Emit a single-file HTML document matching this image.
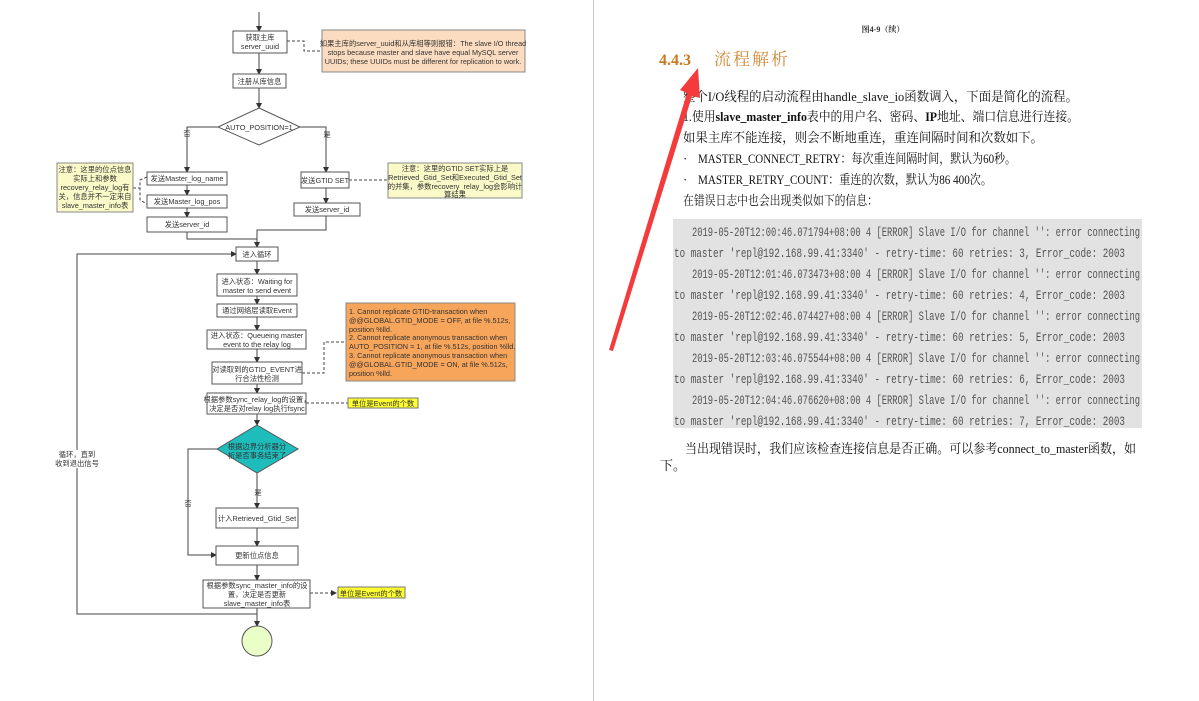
<!DOCTYPE html>
<html><head><meta charset="utf-8"><style>
html,body{margin:0;padding:0;background:#fff;}
svg{display:block;}
.f{font-family:"Liberation Sans","Noto Sans CJK SC",sans-serif;font-size:7.3px;fill:#333;}
.s{font-family:"Liberation Serif","Noto Serif CJK SC",serif;font-size:13px;fill:#111;}
.m{font-family:"Liberation Mono","Noto Sans CJK SC",monospace;font-size:12.5px;fill:#555;}
</style></head><body>
<svg width="1199" height="701" viewBox="0 0 1199 701" xmlns="http://www.w3.org/2000/svg">
<defs>
<marker id="a" markerWidth="6" markerHeight="6" refX="5" refY="3" orient="auto" markerUnits="userSpaceOnUse"><path d="M0,0 L6,3 L0,6 z" fill="#333"/></marker>
</defs>
<rect width="1199" height="701" fill="#fff"/>
<line x1="593.5" y1="0" x2="593.5" y2="701" stroke="#ccc" stroke-width="1"/>

<g stroke="#444" stroke-width="1" fill="none">
<line x1="259" y1="12" x2="259" y2="31" marker-end="url(#a)"/>
<line x1="259" y1="53" x2="259" y2="74" marker-end="url(#a)"/>
<line x1="259" y1="88" x2="259" y2="108" marker-end="url(#a)"/>
<polyline points="218,127 187,127 187,172" marker-end="url(#a)"/>
<polyline points="300,127 326,127 326,172" marker-end="url(#a)"/>
<line x1="187" y1="185" x2="187" y2="195" marker-end="url(#a)"/>
<line x1="187" y1="208" x2="187" y2="217" marker-end="url(#a)"/>
<line x1="326" y1="188" x2="326" y2="203" marker-end="url(#a)"/>
<polyline points="187,232 187,239 257,239"/>
<polyline points="326,216 326,230 257,230 257,247" marker-end="url(#a)"/>
<polyline points="257,614 77,614 77,254 236,254" marker-end="url(#a)"/>
<line x1="257" y1="261" x2="257" y2="274" marker-end="url(#a)"/>
<line x1="257" y1="296" x2="257" y2="304" marker-end="url(#a)"/>
<line x1="257" y1="317" x2="257" y2="330" marker-end="url(#a)"/>
<line x1="257" y1="349" x2="257" y2="362" marker-end="url(#a)"/>
<line x1="257" y1="384" x2="257" y2="393" marker-end="url(#a)"/>
<line x1="257" y1="414" x2="257" y2="425" marker-end="url(#a)"/>
<line x1="257" y1="473" x2="257" y2="508" marker-end="url(#a)"/>
<polyline points="217,449 188,449 188,555 216,555" marker-end="url(#a)"/>
<line x1="257" y1="528" x2="257" y2="546" marker-end="url(#a)"/>
<line x1="257" y1="565" x2="257" y2="580" marker-end="url(#a)"/>
<line x1="257" y1="608" x2="257" y2="626" marker-end="url(#a)"/>
</g>
<g stroke="#444" stroke-width="1" fill="none" stroke-dasharray="3,2">
<polyline points="287,41 304,41 304,51 322,51"/>
<polyline points="147,177 140,180 140,200 147,204"/>
<line x1="133" y1="188" x2="140" y2="188"/>
<line x1="349" y1="180" x2="388" y2="180"/>
<polyline points="302,373 324,373 324,342 346,342"/>
<line x1="306" y1="403" x2="348" y2="403"/>
<line x1="310" y1="593" x2="336" y2="593" marker-end="url(#a)"/>
</g>

<g stroke="#555" stroke-width="1" fill="#fff">
<rect x="233" y="31" width="54" height="22"/>
<rect x="233" y="74" width="53" height="14"/>
<polygon points="259,108 300,127 259,145 218,127"/>
<rect x="147" y="172" width="80" height="13"/>
<rect x="147" y="195" width="80" height="13"/>
<rect x="147" y="217" width="80" height="15"/>
<rect x="301" y="172" width="48" height="16"/>
<rect x="294" y="203" width="66" height="13"/>
<rect x="236" y="247" width="42" height="14"/>
<rect x="217" y="274" width="80" height="22"/>
<rect x="217" y="304" width="80" height="13"/>
<rect x="207" y="330" width="99" height="19"/>
<rect x="212" y="362" width="90" height="22"/>
<rect x="207" y="393" width="99" height="21"/>
<polygon points="257,425 298,449 257,473 217,449" fill="#1fbcbc"/>
<rect x="216" y="508" width="82" height="20"/>
<rect x="216" y="546" width="82" height="19"/>
<rect x="203" y="580" width="107" height="28"/>
<circle cx="257" cy="641" r="15" fill="#eaffc8"/>
</g>
<rect x="322" y="30" width="203" height="42" fill="#fcdcc0" stroke="#888"/>
<rect x="57" y="163" width="76" height="49" fill="#fafac8" stroke="#888"/>
<rect x="388" y="163" width="134" height="35" fill="#fafac8" stroke="#888"/>
<rect x="346" y="303" width="169" height="78" fill="#f7a55a" stroke="#888"/>
<rect x="348" y="398" width="70" height="10" fill="#ffff30" stroke="#777"/>
<rect x="338" y="587" width="67" height="11" fill="#ffff30" stroke="#777"/>
<rect x="56" y="450" width="42" height="18" fill="#fff"/>

<g class="f" text-anchor="middle">
<text x="260" y="40">获取主库</text><text x="260" y="49">server_uuid</text>
<text x="259.5" y="84">注册从库信息</text>
<text x="259" y="130">AUTO_POSITION=1</text>
<text x="187" y="136">否</text><text x="327" y="137">是</text>
<text x="187" y="181">发送Master_log_name</text>
<text x="187" y="204">发送Master_log_pos</text>
<text x="187" y="227">发送server_id</text>
<text x="325" y="183">发送GTID SET</text>
<text x="327" y="212">发送server_id</text>
<text x="95" y="172">注意：这里的位点信息</text>
<text x="95" y="181">实际上和参数</text>
<text x="95" y="190">recovery_relay_log有</text>
<text x="95" y="199">关，信息并不一定来自</text>
<text x="95" y="208">slave_master_info表</text>
<text x="455" y="171">注意：这里的GTID SET实际上是</text>
<text x="455" y="180">Retrieved_Gtid_Set和Executed_Gtid_Set</text>
<text x="455" y="189">的并集，参数recovery_relay_log会影响计</text>
<text x="455" y="197">算结果</text>
<text x="423" y="46">如果主库的server_uuid和从库相等则报错：The slave I/O thread</text>
<text x="423" y="55">stops because master and slave have equal MySQL server</text>
<text x="423" y="64">UUIDs; these UUIDs must be different for replication to work.</text>
<text x="257" y="257">进入循环</text>
<text x="257" y="284">进入状态：Waiting for</text><text x="257" y="293">master to send event</text>
<text x="257" y="313">通过网络层读取Event</text>
<text x="257" y="338">进入状态：Queueing master</text><text x="257" y="347">event to the relay log</text>
<text x="257" y="372">对读取到的GTID_EVENT进</text><text x="257" y="381">行合法性检测</text>
<text x="257" y="402">根据参数sync_relay_log的设置，</text><text x="257" y="411">决定是否对relay log执行fsync</text>
<text x="383" y="406">单位是Event的个数</text>
<text x="257" y="449">根据边界分析器分</text><text x="257" y="458">析是否事务结束了</text>
<text x="258" y="495">是</text><text x="188" y="506">否</text>
<text x="257" y="521">计入Retrieved_Gtid_Set</text>
<text x="257" y="558">更新位点信息</text>
<text x="257" y="588">根据参数sync_master_info的设</text>
<text x="257" y="597">置，决定是否更新</text>
<text x="257" y="606">slave_master_info表</text>
<text x="371" y="596">单位是Event的个数</text>
<text x="77" y="457">循环，直到</text><text x="77" y="466">收到退出信号</text>
</g>
<g class="f">
<text x="349" y="314">1.  Cannot replicate GTID-transaction when</text>
<text x="349" y="323">@@GLOBAL.GTID_MODE = OFF, at file %.512s,</text>
<text x="349" y="332">position %lld.</text>
<text x="349" y="340">2.  Cannot replicate anonymous transaction when</text>
<text x="349" y="349">AUTO_POSITION = 1, at file %.512s, position %lld.</text>
<text x="349" y="358">3.  Cannot replicate anonymous transaction when</text>
<text x="349" y="367">@@GLOBAL.GTID_MODE = ON, at file %.512s,</text>
<text x="349" y="376">position %lld.</text>
</g>

<text x="883" y="32" text-anchor="middle" style="font-family:'Liberation Serif','Noto Serif CJK SC',serif;font-size:8px;font-weight:bold;fill:#333">图4-9（续）</text>
<text x="659" y="65" style="font-family:'Liberation Serif',serif;font-size:16px;font-weight:bold;fill:#c8781e">4.4.3</text>
<text x="714" y="65" style="font-family:'Noto Serif CJK SC',serif;font-size:17px;letter-spacing:2px;fill:#d08a3a">流程解析</text>
<g class="s">
<text x="683" y="101" textLength="395" lengthAdjust="spacingAndGlyphs">整个I/O线程的启动流程由handle_slave_io函数调入，下面是简化的流程。</text>
<text x="683" y="121" textLength="396" lengthAdjust="spacingAndGlyphs">1.使用<tspan font-weight="bold">slave_master_info</tspan>表中的用户名、密码、<tspan font-weight="bold">IP</tspan>地址、端口信息进行连接。</text>
<text x="683" y="142" textLength="360" lengthAdjust="spacingAndGlyphs">如果主库不能连接，则会不断地重连，重连间隔时间和次数如下。</text>
<text x="683" y="163">·</text>
<text x="698" y="163" textLength="318" lengthAdjust="spacingAndGlyphs">MASTER_CONNECT_RETRY：每次重连间隔时间，默认为60秒。</text>
<text x="683" y="184">·</text>
<text x="698" y="184" textLength="294" lengthAdjust="spacingAndGlyphs">MASTER_RETRY_COUNT：重连的次数，默认为86 400次。</text>
<text x="683" y="205" textLength="195" lengthAdjust="spacingAndGlyphs">在错误日志中也会出现类似如下的信息：</text>
</g>
<rect x="673" y="219" width="469" height="209" fill="#e2e2e2"/>
<g class="m">
<text x="692" y="236" textLength="448" lengthAdjust="spacingAndGlyphs">2019-05-20T12:00:46.071794+08:00 4 [ERROR] Slave I/O for channel '': error connecting</text>
<text x="674" y="257" textLength="451" lengthAdjust="spacingAndGlyphs">to master 'repl@192.168.99.41:3340' - retry-time: 60  retries: 3, Error_code: 2003</text>
<text x="692" y="278" textLength="448" lengthAdjust="spacingAndGlyphs">2019-05-20T12:01:46.073473+08:00 4 [ERROR] Slave I/O for channel '': error connecting</text>
<text x="674" y="299" textLength="451" lengthAdjust="spacingAndGlyphs">to master 'repl@192.168.99.41:3340' - retry-time: 60  retries: 4, Error_code: 2003</text>
<text x="692" y="320" textLength="448" lengthAdjust="spacingAndGlyphs">2019-05-20T12:02:46.074427+08:00 4 [ERROR] Slave I/O for channel '': error connecting</text>
<text x="674" y="341" textLength="451" lengthAdjust="spacingAndGlyphs">to master 'repl@192.168.99.41:3340' - retry-time: 60  retries: 5, Error_code: 2003</text>
<text x="692" y="362" textLength="448" lengthAdjust="spacingAndGlyphs">2019-05-20T12:03:46.075544+08:00 4 [ERROR] Slave I/O for channel '': error connecting</text>
<text x="674" y="383" textLength="451" lengthAdjust="spacingAndGlyphs">to master 'repl@192.168.99.41:3340' - retry-time: 60  retries: 6, Error_code: 2003</text>
<text x="692" y="404" textLength="448" lengthAdjust="spacingAndGlyphs">2019-05-20T12:04:46.076620+08:00 4 [ERROR] Slave I/O for channel '': error connecting</text>
<text x="674" y="425" textLength="451" lengthAdjust="spacingAndGlyphs">to master 'repl@192.168.99.41:3340' - retry-time: 60  retries: 7, Error_code: 2003</text>
</g>
<g class="s">
<text x="685" y="453" textLength="451" lengthAdjust="spacingAndGlyphs">当出现错误时，我们应该检查连接信息是否正确。可以参考connect_to_master函数，如</text>
<text x="660" y="470">下。</text>
</g>

<polygon points="609,350 613,351 692,96 700,98 698,68 680,90 687,93" fill="#f43a3a"/>
</svg>
</body></html>
